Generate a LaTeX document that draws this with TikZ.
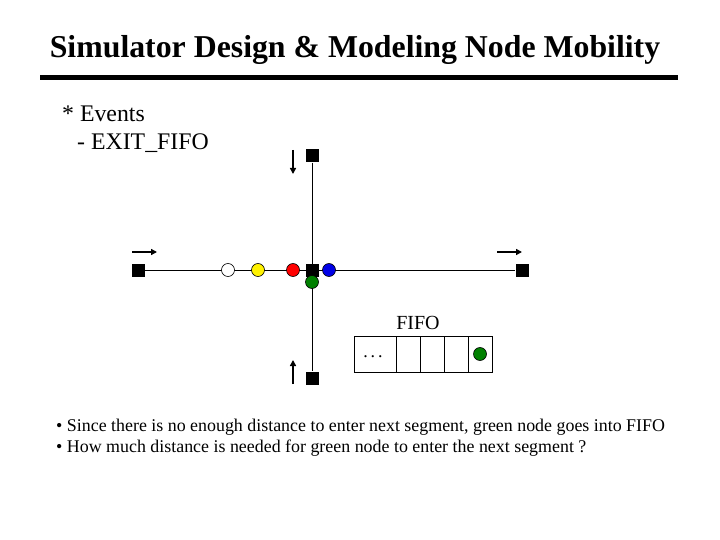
\documentclass[tikz,border=0pt]{standalone}
\usepackage{fontspec}
\setmainfont{Liberation Serif}
\usetikzlibrary{arrows.meta}
\definecolor{dgreen}{RGB}{0,128,0}
\definecolor{dblue}{RGB}{0,0,230}
\tikzset{
  sq/.style={fill=black,minimum size=13pt,inner sep=0pt},
  dot/.style={circle,draw=black,line width=0.6pt,minimum size=13pt,inner sep=0pt},
  road/.style={line width=1pt},
  dirarrow/.style={line width=1.8pt,-{Triangle[length=6pt,width=6pt]}},
  cell/.style={draw,line width=1pt,minimum height=36pt,inner sep=0pt}
}
\begin{document}
\begin{tikzpicture}[x=1pt,y=-1pt]
\useasboundingbox (0,0) rectangle (720,540);
% title
\node[anchor=base,font=\bfseries\fontsize{31.8}{36}\selectfont,inner sep=0pt] (title) at (355,58) {Simulator Design \& Modeling Node Mobility};
\draw[line width=5pt] (40,78) -- (678,78);
\node[anchor=base west,font=\fontsize{23.8}{28}\selectfont,inner sep=0pt] (ev) at (62,122) {* Events};
\node[anchor=base west,font=\fontsize{23.8}{28}\selectfont,inner sep=0pt] (ex) at (77,150) {- EXIT\_FIFO};
% roads
\node[sq] (top) at (312,156) {};
\node[sq] (bot) at (312,378) {};
\node[sq] (left) at (138,270) {};
\node[sq] (right) at (522,270) {};
\draw[road] (left) -- (right);
\draw[road] (top) -- (bot);
\node[sq] (ctr) at (312,270) {};
% direction arrows
\coordinate (ta1) at (293,150); \coordinate (ta2) at (293,174);
\coordinate (ba1) at (293,384); \coordinate (ba2) at (293,360);
\coordinate (la1) at (132,252); \coordinate (la2) at (157,252);
\coordinate (ra1) at (497,252); \coordinate (ra2) at (522,252);
\draw[dirarrow] (ta1) -- (ta2);
\draw[dirarrow] (ba1) -- (ba2);
\draw[dirarrow] (la1) -- (la2);
\draw[dirarrow] (ra1) -- (ra2);
% vehicles
\node[dot,fill=white] (w) at (228,270) {};
\node[dot,fill=yellow] (y) at (258,270) {};
\node[dot,fill=red] (r) at (293,270) {};
\node[dot,fill=dblue] (b) at (329,270) {};
\node[dot,fill=dgreen] (g) at (312,282) {};
% FIFO
\node[font=\fontsize{20}{24}\selectfont,inner sep=0pt] (fl) at (418,323) {FIFO};
\node[cell,minimum width=42pt] (c0) at (375,354) {};
\node[cell,minimum width=24pt] (c1) at (408,354) {};
\node[cell,minimum width=24pt] (c2) at (432,354) {};
\node[cell,minimum width=24pt] (c3) at (456,354) {};
\node[cell,minimum width=24pt] (c4) at (480,354) {};
\node[anchor=base,font=\fontsize{18}{20}\selectfont,inner sep=0pt] (dots) at (373,357) {.\,.\,.};
\node[dot,fill=dgreen] (fg) at (480,354) {};
% bullets
\node[anchor=base west,font=\fontsize{17.9}{21}\selectfont,inner sep=0pt] (b1) at (56,431) {• Since there is no enough distance to enter next segment, green node goes into FIFO};
\node[anchor=base west,font=\fontsize{17.9}{21}\selectfont,inner sep=0pt] (b2) at (56,452) {• How much distance is needed for green node to enter the next segment ?};
\end{tikzpicture}
\end{document}
